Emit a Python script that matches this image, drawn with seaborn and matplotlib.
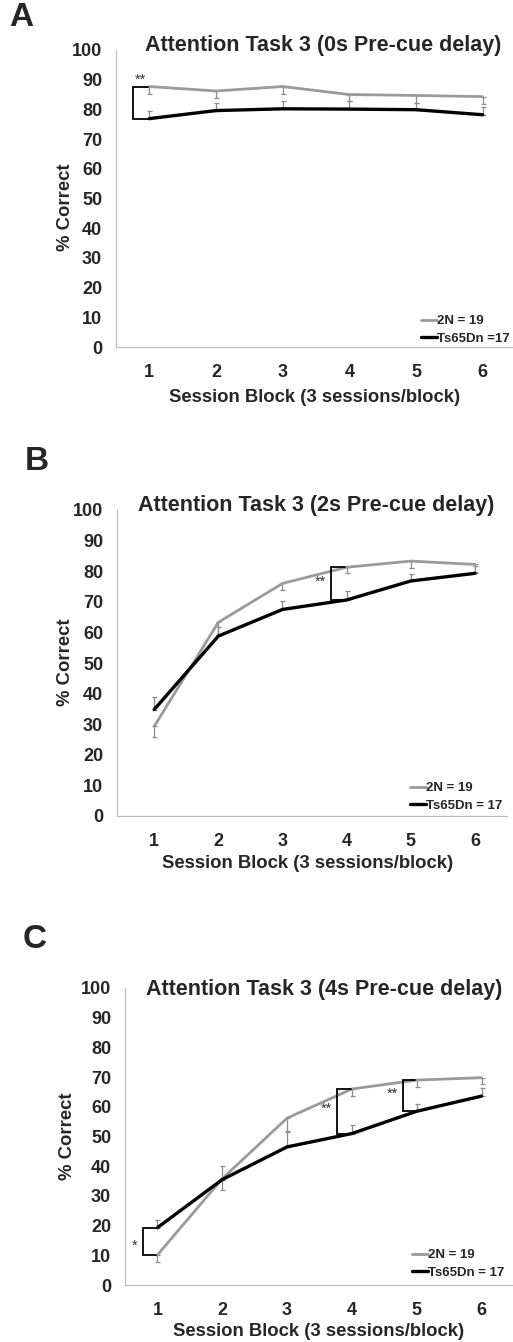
import numpy as np
import pandas as pd
import matplotlib
matplotlib.use("Agg")
import matplotlib.pyplot as plt
import seaborn as sns
from matplotlib.lines import Line2D

# ---- data -------------------------------------------------------------
blocks = [1, 2, 3, 4, 5, 6]
groups = ["2N", "Ts65Dn"]

a_2n = [87.7, 86.2, 87.7, 85.0, 84.7, 84.3]
a_2n_sem = [2.4, 2.3, 2.4, 2.3, 2.4, 2.5]
a_ts = [76.9, 79.6, 80.2, 80.1, 79.9, 78.2]
a_ts_sem = [2.6, 2.5, 2.7, 2.7, 2.4, 2.6]

b_2n = [29.3, 63.3, 76.0, 81.3, 83.3, 82.2]
b_2n_sem = [3.6, 4.3, 2.2, 1.9, 2.3, 2.6]
b_ts = [34.8, 58.8, 67.5, 70.6, 76.8, 79.3]
b_ts_sem = [4.0, 3.0, 2.7, 2.8, 2.4, 2.5]

c_2n = [10.1, 35.8, 56.2, 66.0, 69.0, 69.8]
c_2n_sem = [2.3, 3.8, 4.4, 2.2, 2.3, 2.2]
c_ts = [19.3, 35.5, 46.5, 51.0, 58.5, 63.6]
c_ts_sem = [2.7, 4.5, 5.0, 2.9, 2.5, 2.7]

titles = ["Attention Task 3 (0s Pre-cue delay)",
          "Attention Task 3 (2s Pre-cue delay)",
          "Attention Task 3 (4s Pre-cue delay)"]
legend_labels = [["2N = 19", "Ts65Dn =17"],
                 ["2N = 19", "Ts65Dn = 17"],
                 ["2N = 19", "Ts65Dn = 17"]]
panel_letters = ["A", "B", "C"]
# significance brackets: (bracket x, block index, stars)
brackets = [[(0.75, 0, "**")],
            [(3.76, 3, "**")],
            [(0.78, 0, "*"), (3.77, 3, "**"), (4.79, 4, "**")]]
yticks = list(range(0, 101, 10))

# ---- style ------------------------------------------------------------
sns.set_theme(style="white")
plt.rcParams["font.family"] = ["Liberation Sans", "DejaVu Sans"]

W, H = 513, 1342
fig = plt.figure(figsize=(W / 100, H / 100), dpi=100)


def fx(x):
    return x / W


def fy(y):
    return 1 - y / H


GRAY = "#9a9a9a"
ERR = "#8c8c8c"
SPINE = "#bdbdbd"

# pixel layout of each panel: (left, right, y of 100, y of 0, xlim left)
layout = [(116, 516, 50, 347, 0.5),
          (117, 507, 510, 816, 0.42),
          (125, 514, 988, 1285, 0.5)]
title_pos = [(323, 46), (316, 506), (324, 989)]
letter_pos = [(21, 17), (37, 461), (35, 940)]
ylabel_pos = [(65, 207), (65, 662), (68, 1136)]
xlabel_pos = [(315, 397), (308, 864), (319, 1331)]
legend_pos = [(421, 315), (410, 782), (412, 1249)]

panels = [(a_2n, a_2n_sem, a_ts, a_ts_sem),
          (b_2n, b_2n_sem, b_ts, b_ts_sem),
          (c_2n, c_2n_sem, c_ts, c_ts_sem)]

for i, (g_mean, g_sem, t_mean, t_sem) in enumerate(panels):
    left, right, y100, y0, xl = layout[i]
    ax = fig.add_axes([fx(left), fy(y0), (right - left) / W, (y0 - y100) / H])

    df = pd.DataFrame({
        "block": blocks * 2,
        "pct": list(g_mean) + list(t_mean),
        "group": [groups[0]] * 6 + [groups[1]] * 6,
    })
    sns.lineplot(data=df, x="block", y="pct", hue="group",
                 palette={groups[0]: GRAY, groups[1]: "black"},
                 linewidth=2.0, ax=ax, legend=False)
    for ln, lw in zip(ax.get_lines(), [2.0, 2.4]):
        ln.set_linewidth(lw)
        ln.set_solid_joinstyle("miter")

    # one-sided SEM bars: 2N downward, Ts65Dn upward
    ax.errorbar(blocks, g_mean, yerr=[g_sem, [0] * 6], fmt="none",
                ecolor=ERR, elinewidth=0.9, capsize=1.8, capthick=0.9, zorder=1)
    ax.errorbar(blocks, t_mean, yerr=[[0] * 6, t_sem], fmt="none",
                ecolor=ERR, elinewidth=0.9, capsize=1.8, capthick=0.9, zorder=1)

    # significance brackets
    for bx, k, stars in brackets[i]:
        top, bot = g_mean[k], t_mean[k]
        hi, lo = max(top, bot), min(top, bot)
        xe = blocks[k] - 0.02
        ax.plot([xe, bx, bx, xe], [hi, hi, lo, lo], color="black",
                lw=1.3, solid_joinstyle="miter", zorder=3)
        if i == 0:
            ax.text(bx + 0.11, hi - 0.2, stars, ha="center", va="bottom",
                    fontsize=10.5, color="#333333")
        elif stars == "*":
            ax.text(bx - 0.13, (hi + lo) / 2 - 1.5, stars, ha="center",
                    va="center", fontsize=10.5, color="#333333")
        else:
            ax.text(bx - 0.17, lo + (hi - lo) * 0.55, stars, ha="center",
                    va="center", fontsize=10.5, color="#333333")

    ax.set_xlim(xl, 6.5)
    ax.set_ylim(0, 100)
    ax.set_yticks(yticks)
    ax.set_yticklabels([str(v) for v in yticks], fontsize=13, fontweight="bold")
    ax.set_xticks(blocks)
    ax.set_xticklabels([str(b) for b in blocks], fontsize=13, fontweight="bold")
    ax.set_xticks(np.arange(0.5, 7.0, 1.0), minor=True)
    ax.tick_params(axis="x", which="major", length=0, pad=12)
    ax.tick_params(axis="x", which="minor", length=4, width=0.9, color=SPINE,
                   direction="out")
    ax.tick_params(axis="y", length=4, width=0.9, color=SPINE, pad=6,
                   direction="out")
    ax.set_xlabel("")
    ax.set_ylabel("")
    for side in ["top", "right"]:
        ax.spines[side].set_visible(False)
    for side in ["left", "bottom"]:
        ax.spines[side].set_color(SPINE)
        ax.spines[side].set_linewidth(0.9)
    ax.set_facecolor("white")
    ax.grid(False)

    # legend
    handles = [Line2D([], [], color=GRAY, lw=2.0),
               Line2D([], [], color="black", lw=2.4)]
    lx, ly = legend_pos[i]
    ax.legend(handles, legend_labels[i], loc="upper left",
              bbox_to_anchor=(fx(lx), fy(ly)), bbox_transform=fig.transFigure,
              frameon=False, handlelength=1.25, handletextpad=0.0,
              borderpad=0, borderaxespad=0, labelspacing=0.42,
              prop={"size": 9.5, "weight": "bold"})

    # titles and labels
    tx, ty = title_pos[i]
    fig.text(fx(tx), fy(ty), titles[i], ha="center", va="center",
             fontsize=15.5, fontweight="bold")
    lx2, ly2 = letter_pos[i]
    fig.text(fx(lx2), fy(ly2), panel_letters[i], ha="center", va="center",
             fontsize=24, fontweight="bold")
    yx, yy = ylabel_pos[i]
    fig.text(fx(yx), fy(yy), "% Correct", ha="center", va="center",
             rotation=90, fontsize=13.3, fontweight="bold")
    xx, xy = xlabel_pos[i]
    fig.text(fx(xx), fy(xy), "Session Block (3 sessions/block)", ha="center",
             va="center", fontsize=13.3, fontweight="bold")

fig.savefig("out.png", dpi=100, facecolor="white")
